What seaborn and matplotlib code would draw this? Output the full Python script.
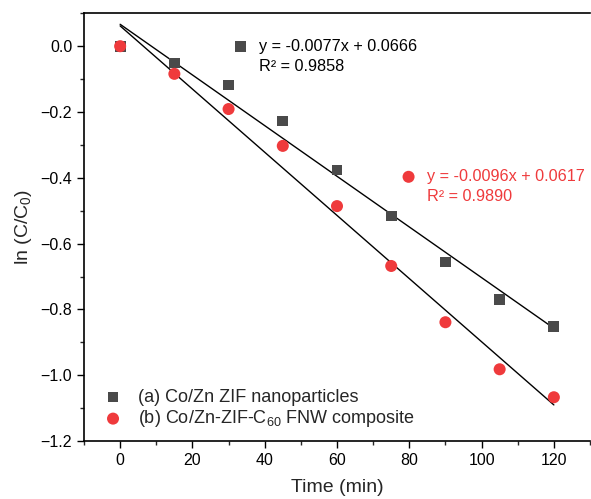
import numpy as np
import pandas as pd
import matplotlib
matplotlib.use("Agg")
import matplotlib.pyplot as plt
import seaborn as sns
from matplotlib.ticker import MultipleLocator, FuncFormatter

sns.set_theme(style="ticks")
plt.rcParams['font.family'] = ['Liberation Sans', 'DejaVu Sans']
plt.rcParams['mathtext.fontset'] = 'custom'
plt.rcParams['mathtext.rm'] = 'Liberation Sans'
plt.rcParams['mathtext.it'] = 'Liberation Sans:italic'

time_min = [0, 15, 30, 45, 60, 75, 90, 105, 120]
ln_a = [0.0, -0.051, -0.118, -0.227, -0.376, -0.516, -0.656, -0.769, -0.851]
ln_b = [0.0, -0.084, -0.191, -0.303, -0.486, -0.668, -0.839, -0.982, -1.067]
fit_a = (-0.0077, 0.0666, 0.9858)
fit_b = (-0.0096, 0.0617, 0.9890)
label_a = "(a) Co/Zn ZIF nanoparticles"
label_b = "(b) Co/Zn-ZIF-C$_{60}$ FNW composite"
col_a = "#4a4a4a"
col_b = "#ef3a3c"

fig = plt.figure(figsize=(5.91, 4.99), dpi=100)
ax = fig.add_axes([84/591, 1-441/499, (590-84)/591, (441-13.3)/499])

t = np.array([time_min[0], time_min[-1]])
df_fa = pd.DataFrame({"x": t, "y": fit_a[0]*t + fit_a[1]})
df_fb = pd.DataFrame({"x": t, "y": fit_b[0]*t + fit_b[1]})
sns.lineplot(data=df_fa, x="x", y="y", ax=ax, color="black", lw=1.0, legend=False)
sns.lineplot(data=df_fb, x="x", y="y", ax=ax, color="black", lw=1.0, legend=False)

sns.scatterplot(x=time_min, y=ln_a, ax=ax, marker="s", s=60, color=col_a,
                edgecolor="none", label=label_a, zorder=3)
sns.scatterplot(x=time_min, y=ln_b, ax=ax, marker="o", s=75, color=col_b,
                edgecolor="none", label=label_b, zorder=4)

# equation annotations
ann_fs = 11.7
ax.scatter([33.4], [0.0], marker="s", s=60, color=col_a, edgecolor="none", zorder=3)
ax.text(38.5, 0.0, f"y = {fit_a[0]}x + {fit_a[1]}", fontsize=ann_fs, color="black",
        va="center", ha="left")
ax.text(38.5, -0.061, f"R² = {fit_a[2]:.4f}", fontsize=ann_fs, color="black",
        va="center", ha="left")
ax.scatter([79.8], [-0.397], marker="o", s=75, color=col_b, edgecolor="none", zorder=3)
ax.text(84.8, -0.397, f"y = {fit_b[0]}x + {fit_b[1]}", fontsize=ann_fs, color=col_b,
        va="center", ha="left")
ax.text(84.8, -0.458, f"R² = {fit_b[2]:.4f}", fontsize=ann_fs, color=col_b,
        va="center", ha="left")

ax.set_xlim(-10, 130)
ax.set_ylim(-1.2, 0.1)
ax.xaxis.set_major_locator(MultipleLocator(20))
ax.xaxis.set_minor_locator(MultipleLocator(10))
ax.yaxis.set_major_locator(MultipleLocator(0.2))
ax.yaxis.set_minor_locator(MultipleLocator(0.1))
ax.yaxis.set_major_formatter(FuncFormatter(lambda v, p: f"{v:.1f}".replace("-", "\u2212") if abs(v) > 1e-9 else "0.0"))
ax.tick_params(axis='both', which='major', direction='out', length=5, width=1,
               labelsize=11.5, colors='black')
ax.tick_params(axis='both', which='minor', direction='out', length=3, width=1)
ax.set_xlabel("Time (min)", fontsize=14, labelpad=8)
ax.set_ylabel("ln (C/C$_0$)", fontsize=14, labelpad=5)
for sp in ["left", "bottom", "top"]:
    ax.spines[sp].set_linewidth(1.2)
    ax.spines[sp].set_color("black")
ax.spines["right"].set_visible(False)

ax.legend(loc="lower left", bbox_to_anchor=(-0.014, -0.015), frameon=False, fontsize=13,
          handletextpad=0.4, borderaxespad=0.6, labelspacing=0.15, markerscale=1.0)

fig.savefig("out.png", dpi=100)
